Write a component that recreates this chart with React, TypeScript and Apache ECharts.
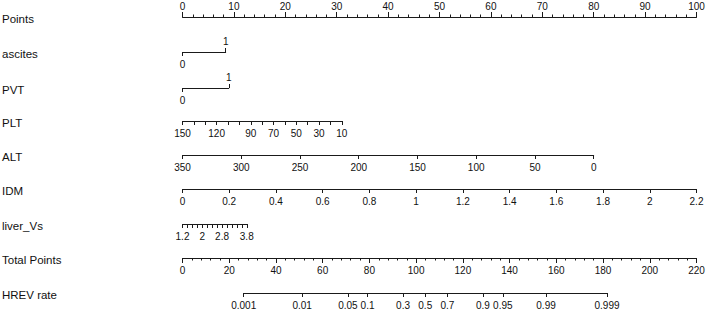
import React, { useEffect, useRef } from "react";
import * as echarts from "echarts";

// ---------- data ----------
const rowNames = ["Points", "ascites", "PVT", "PLT", "ALT", "IDM", "liver_Vs", "Total Points", "HREV rate"];

const pointsMax = 100;

const ascitesLevels = [0, 1];
const ascitesPoints = [0, 8.4];

const pvtLevels = [0, 1];
const pvtPoints = [0, 9.0];

const pltTicks = [150, 140, 130, 120, 110, 100, 90, 80, 70, 60, 50, 40, 30, 20, 10];
const pltLabels = [150, 120, 90, 70, 50, 30, 10];
const pltPoints = [0, 31.0];

const altTicks = [350, 300, 250, 200, 150, 100, 50, 0];
const altLabels = [350, 300, 250, 200, 150, 100, 50, 0];
const altPoints = [0, 80];

const idmTicks = [0, 0.2, 0.4, 0.6, 0.8, 1, 1.2, 1.4, 1.6, 1.8, 2, 2.2];
const idmLabels = [0, 0.2, 0.4, 0.6, 0.8, 1, 1.2, 1.4, 1.6, 1.8, 2, 2.2];
const idmPoints = [0, 100];

const liverTicks = [1.2, 1.4, 1.6, 1.8, 2, 2.2, 2.4, 2.6, 2.8, 3, 3.2, 3.4, 3.6, 3.8];
const liverLabels = [1.2, 2, 2.8, 3.8];
const liverPoints = [0, 12.5];

const totalPointsMax = 220;

const hrevRates = [0.001, 0.01, 0.05, 0.1, 0.3, 0.5, 0.7, 0.9, 0.95, 0.99, 0.999];
const hrevTotalPoints = [26.2, 51.2, 70.8, 79.2, 94.4, 103.9, 113.4, 128.6, 137.1, 155.6, 181.7];

// ---------- layout / style ----------
const X0 = 182.5;
const X1 = 696.5;
const rowLineY = [17, 52, 88, 121, 155, 189, 224, 258, 293];
const LINE = "#1a1a1a";
const TXT = "#111";
const FONT = '"Liberation Sans", Arial, sans-serif';

const fmtNum = (v: number) => String(parseFloat(Number(v).toFixed(4)));

function buildOption() {
  const PPP = (X1 - X0) / pointsMax;
  const TPP = (X1 - X0) / totalPointsMax;
  const grids: any[] = [];
  const xAxes: any[] = [];
  const yAxes: any[] = [];

  const addGrid = (lineY: number, left: number, width: number, atTop = false) => {
    const idx = grids.length;
    grids.push({ left, width, top: atTop ? lineY : lineY - 10, height: 10, containLabel: false });
    yAxes.push({ gridIndex: idx, type: "value", show: false, min: 0, max: 1 });
    return idx;
  };

  const labelStyle = (margin: number, extra: any = {}) => ({
    show: true,
    color: TXT,
    fontSize: 10,
    fontFamily: FONT,
    margin,
    hideOverlap: false,
    showMinLabel: true,
    showMaxLabel: true,
    formatter: (v: number) => fmtNum(v),
    ...extra,
  });

  const base = (gridIndex: number, min: number, max: number) => ({
    gridIndex,
    type: "value",
    min,
    max,
    position: "bottom",
    splitLine: { show: false },
    axisLine: { show: true, onZero: false, lineStyle: { color: LINE, width: 1 } },
  });

  // Points axis (top)
  {
    const g = addGrid(rowLineY[0], X0, X1 - X0, true);
    xAxes.push({
      ...base(g, 0, pointsMax),
      position: "top",
      interval: 10,
      axisTick: { show: true, length: 5, lineStyle: { color: LINE } },
      minorTick: { show: true, splitNumber: 5, length: 2.5, lineStyle: { color: LINE } },
      minorSplitLine: { show: false },
      axisLabel: labelStyle(6),
    });
  }

  // binary variables
  const binaryRow = (lineY: number, levels: number[], pts: number[]) => {
    const left = X0 + PPP * Math.min(...pts);
    const width = PPP * Math.abs(pts[1] - pts[0]);
    const g = addGrid(lineY, left, width);
    xAxes.push({
      ...base(g, levels[0], levels[1]),
      axisTick: { show: true, length: 4, customValues: [levels[0]], lineStyle: { color: LINE } },
      axisLabel: labelStyle(7, { customValues: [levels[0]] }),
    });
    xAxes.push({
      ...base(g, levels[0], levels[1]),
      axisLine: { show: false, onZero: false },
      axisTick: { show: true, inside: true, length: 4, customValues: [levels[1]], lineStyle: { color: LINE } },
      axisLabel: labelStyle(6, { inside: true, customValues: [levels[1]] }),
    });
  };
  binaryRow(rowLineY[1], ascitesLevels, ascitesPoints);
  binaryRow(rowLineY[2], pvtLevels, pvtPoints);

  // continuous variables
  const contRow = (lineY: number, ticks: number[], labels: number[], pts: number[]) => {
    const first = ticks[0];
    const last = ticks[ticks.length - 1];
    const left = X0 + PPP * Math.min(...pts);
    const width = PPP * Math.abs(pts[1] - pts[0]);
    const g = addGrid(lineY, left, width);
    xAxes.push({
      ...base(g, Math.min(first, last), Math.max(first, last)),
      inverse: first > last,
      axisTick: { show: true, length: 4, customValues: ticks, lineStyle: { color: LINE } },
      axisLabel: labelStyle(7, { customValues: labels }),
    });
  };
  contRow(rowLineY[3], pltTicks, pltLabels, pltPoints);
  contRow(rowLineY[4], altTicks, altLabels, altPoints);
  contRow(rowLineY[5], idmTicks, idmLabels, idmPoints);
  contRow(rowLineY[6], liverTicks, liverLabels, liverPoints);

  // Total Points
  {
    const g = addGrid(rowLineY[7], X0, X1 - X0);
    xAxes.push({
      ...base(g, 0, totalPointsMax),
      interval: 20,
      axisTick: { show: true, length: 5, lineStyle: { color: LINE } },
      minorTick: { show: true, splitNumber: 5, length: 2.5, lineStyle: { color: LINE } },
      minorSplitLine: { show: false },
      axisLabel: labelStyle(7),
    });
  }

  // HREV rate (in total-point units, labelled with probabilities)
  {
    const tMin = hrevTotalPoints[0];
    const tMax = hrevTotalPoints[hrevTotalPoints.length - 1];
    const g = addGrid(rowLineY[8], X0 + TPP * tMin, TPP * (tMax - tMin));
    xAxes.push({
      ...base(g, tMin, tMax),
      axisTick: { show: true, length: 4, customValues: hrevTotalPoints, lineStyle: { color: LINE } },
      axisLabel: labelStyle(7, {
        customValues: hrevTotalPoints,
        formatter: (v: number) => {
          let best = 0;
          hrevTotalPoints.forEach((t, i) => {
            if (Math.abs(t - v) < Math.abs(hrevTotalPoints[best] - v)) best = i;
          });
          return String(hrevRates[best]);
        },
      }),
    });
  }

  const graphic = rowNames.map((name, i) => ({
    type: "text",
    x: 2,
    y: rowLineY[i] + 1.5,
    style: {
      text: name,
      fill: TXT,
      font: `11.5px ${FONT}`,
      verticalAlign: "middle",
      align: "left",
    },
  }));

  return {
    animation: false,
    backgroundColor: "#ffffff",
    grid: grids,
    xAxis: xAxes,
    yAxis: yAxes,
    graphic,
    series: [],
  };
}

export default function App() {
  const ref = useRef<HTMLDivElement>(null);
  useEffect(() => {
    if (!ref.current) return;
    const chart = echarts.init(ref.current, null, { renderer: "svg" });
    chart.setOption(buildOption() as any);
    return () => chart.dispose();
  }, []);
  return (
    <div
      ref={ref}
      style={{ position: "fixed", left: 0, top: 0, width: 708, height: 312, background: "#fff" }}
    />
  );
}
